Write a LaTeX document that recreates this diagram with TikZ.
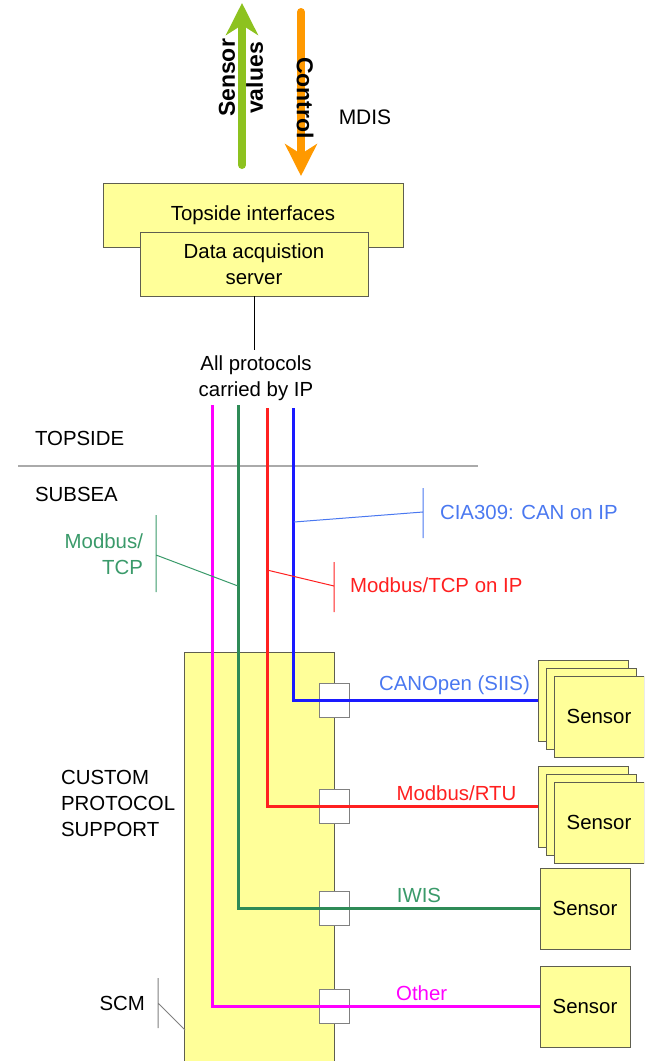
\documentclass[tikz,border=0pt]{standalone}
\usepackage{fontspec}
\setmainfont{Liberation Sans}
\usepackage{tikz}
\usetikzlibrary{arrows.meta}
\definecolor{boxFill}{HTML}{FFFF99}
\definecolor{boxLine}{HTML}{5E5E50}
\definecolor{valueGreen}{HTML}{8DC21F}
\definecolor{controlOrange}{HTML}{FF9900}
\definecolor{busMagenta}{HTML}{FF00FF}
\definecolor{busGreen}{HTML}{2E8B57}
\definecolor{labelGreen}{HTML}{3A9A6A}
\definecolor{busRed}{HTML}{FF2020}
\definecolor{busBlue}{HTML}{1A1AFF}
\definecolor{labelBlue}{HTML}{4A78F0}
\definecolor{sepGray}{HTML}{AAAAAA}

\begin{document}
\begin{tikzpicture}[x=0.5pt, y=-0.5pt, font=\fontsize{10.2}{13}\selectfont,
    box/.style={draw=boxLine, fill=boxFill, inner sep=0pt},
    sensorbox/.style={box, minimum width=45pt, minimum height=40.5pt},
    port/.style={draw=gray, fill=white, minimum width=15pt, minimum height=17pt, inner sep=0pt},
    bus/.style={line width=1.5pt},
    buslabel/.style={above, inner sep=2pt},
    callout/.style={line width=0.5pt}]
    \clip (0,0) rectangle (644,1061);

    \coordinate (valBot) at (242,165);
    \coordinate (valTip) at (242,3);
    \coordinate (ctrlTop) at (301,12);
    \coordinate (ctrlTip) at (301,176);
    \draw[valueGreen, line width=4pt, line cap=round, -{Stealth[length=16pt, width=16pt, inset=5pt]}] (valBot) -- (valTip);
    \draw[controlOrange, line width=4pt, line cap=round, -{Stealth[length=16pt, width=16pt, inset=5pt]}] (ctrlTop) -- (ctrlTip);
    \node[rotate=90, align=center, font=\fontsize{11.5}{14}\selectfont\bfseries] (valtxt) at (241,78) {Sensor\\values};
    \node[rotate=-90, font=\fontsize{11.5}{14}\selectfont\bfseries] (ctrltxt) at (305,98) {Control};
    \node[font=\fontsize{10.5}{13}\selectfont] (mdis) at (365,117) {MDIS};

    \node[box, minimum width=150pt, minimum height=32pt] (topside) at (253,215) {Topside interfaces};
    \node[box, minimum width=114pt, minimum height=32pt, align=center] (daq) at (254,264) {Data acquistion\\server};
    \coordinate (ipTop) at (254,350);
    \draw (daq.south) -- (ipTop);
    \node[align=center] (allip) at (256,378) {All protocols\\carried by IP};

    \node[anchor=west] (topsideLbl) at (28,438) {TOPSIDE};
    \coordinate (sepL) at (18,466);
    \coordinate (sepR) at (478,466);
    \draw[sepGray, line width=1pt] (sepL) -- (sepR);
    \node[anchor=west] (subseaLbl) at (28,494) {SUBSEA};

    \node[box, minimum width=75pt, minimum height=212pt] (scm) at (259,864) {};
    \node[anchor=west, align=left] (custom) at (54,803) {CUSTOM\\PROTOCOL\\SUPPORT};

    \node[sensorbox] (s1back) at (583,700.5) {};
    \node[sensorbox] (s1mid) at (591,708.5) {};
    \node[sensorbox] (s1) at (599,716.5) {Sensor};
    \node[sensorbox] (s2back) at (583,806.5) {};
    \node[sensorbox] (s2mid) at (591,814.5) {};
    \node[sensorbox] (s2) at (599,822.5) {Sensor};
    \node[sensorbox] (s3) at (585,908.5) {Sensor};
    \node[sensorbox] (s4) at (585,1006.5) {Sensor};

    \node[port] (p1) at (scm.east |- s1back.west) {};
    \node[port] (p2) at (scm.east |- s2back.west) {};
    \node[port] (p3) at (scm.east |- s3.west) {};
    \node[port] (p4) at (scm.east |- s4.west) {};

    \coordinate (mTop) at (212,405);
    \coordinate (gTop) at (238,405);
    \coordinate (rTop) at (267,408);
    \coordinate (bTop) at (293,408);
    \draw[bus, busBlue] (bTop) |- node[buslabel, pos=0.83, labelBlue] {CANOpen (SIIS)} (s1back.west);
    \draw[bus, busRed] (rTop) |- node[buslabel, pos=0.85] {Modbus/RTU} (s2back.west);
    \draw[bus, busGreen] (gTop) |- node[buslabel, pos=0.80, labelGreen] {IWIS} (s3.west);
    \draw[bus, busMagenta] (mTop) |- node[buslabel, pos=0.82] {Other} (s4.west);

    \coordinate (bTap) at (294,522);
    \coordinate (bTick) at (423,512);
    \draw[callout, labelBlue] (bTap) -- (bTick) (423,488) -- (423,538);
    \node[anchor=west, labelBlue] (cia) at (433,512) {CIA309: CAN on IP};

    \coordinate (rTap) at (267,570);
    \coordinate (rTick) at (334,586);
    \draw[callout, busRed] (rTap) -- (rTick) (334,562) -- (334,612);
    \node[anchor=west, busRed] (mtcpip) at (343,585) {Modbus/TCP on IP};

    \coordinate (gTap) at (238,586);
    \coordinate (gTick) at (156,555);
    \draw[callout, labelGreen] (gTap) -- (gTick) (156,515) -- (156,592);
    \node[anchor=east, align=right, labelGreen] (mtcp) at (150,554) {Modbus/\\TCP};

    \coordinate (scmTap) at (185,1030);
    \coordinate (scmTick) at (158,1003);
    \draw[callout, gray] (scmTap) -- (scmTick) (158,978) -- (158,1028);
    \node[anchor=east] (scmLbl) at (152,1003) {SCM};
\end{tikzpicture}
\end{document}
